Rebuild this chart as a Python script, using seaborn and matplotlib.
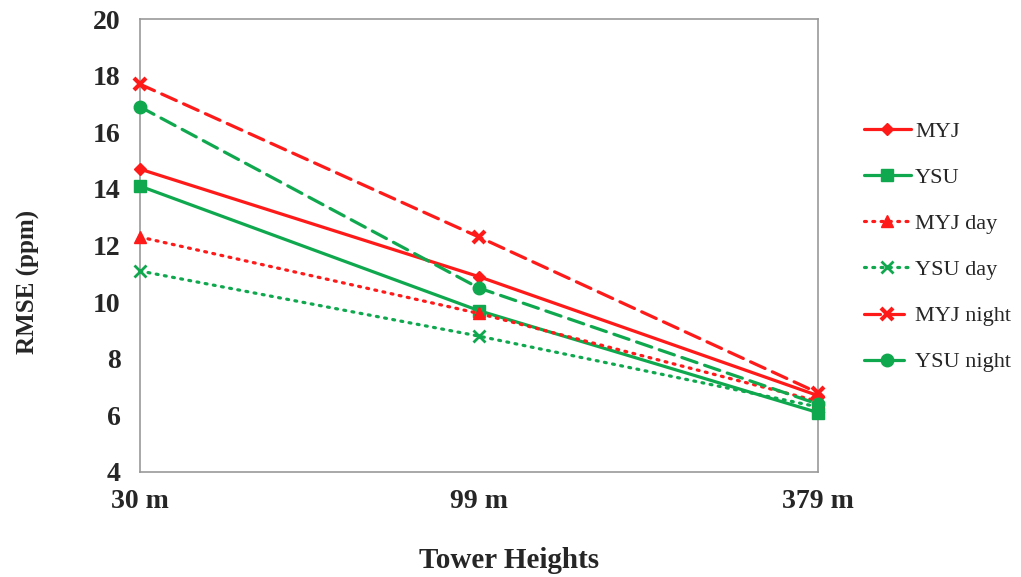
import pandas as pd
import seaborn as sns
import matplotlib.pyplot as plt

# Chart data
heights = ["30 m", "99 m", "379 m"]
myj = [14.7, 10.9, 6.7]
ysu = [14.1, 9.7, 6.1]
myj_day = [12.3, 9.6, 6.5]
ysu_day = [11.1, 8.8, 6.3]
myj_night = [17.7, 12.3, 6.8]
ysu_night = [16.9, 10.5, 6.4]

series_names = ["MYJ", "YSU", "MYJ day", "YSU day", "MYJ night", "YSU night"]
series_values = [myj, ysu, myj_day, ysu_day, myj_night, ysu_night]

sns.set_style("white")
plt.rcParams["font.family"] = ["Liberation Serif", "DejaVu Serif"]

red = "#ff1a1a"
green = "#10a84e"
dotted = (0, (0.6, 2.0))
dashed = (0, (5, 2.5))
styles = {
    "MYJ": dict(color=red, ls="-", marker="D", ms=6, mew=1),
    "YSU": dict(color=green, ls="-", marker="s", ms=8, mew=1),
    "MYJ day": dict(color=red, ls=dotted, marker="^", ms=9, mew=1),
    "YSU day": dict(color=green, ls=dotted, marker="x", ms=9, mew=2),
    "MYJ night": dict(color=red, ls=dashed, marker="x", ms=9, mew=3),
    "YSU night": dict(color=green, ls=dashed, marker="o", ms=9, mew=1),
}

fig = plt.figure(figsize=(10.21, 5.77), dpi=100)
ax = fig.add_axes([0.137, 0.182, 0.664, 0.785])

for name, vals in zip(series_names, series_values):
    df = pd.DataFrame({"x": range(len(heights)), "y": vals})
    st = styles[name]
    sns.lineplot(data=df, x="x", y="y", ax=ax, label=name, color=st["color"],
                 linestyle=st["ls"], linewidth=2.3, marker=st["marker"],
                 markersize=st["ms"], markeredgewidth=st["mew"],
                 markeredgecolor=st["color"], dash_capstyle="round",
                 clip_on=False, zorder=3)

ax.set_xlim(0, len(heights) - 1)
ax.set_ylim(4, 20)
ax.set_xticks(range(len(heights)))
ax.set_xticklabels(heights)
ax.set_yticks(range(4, 21, 2))
ax.tick_params(axis="y", direction="in", length=7, color="#aaaaaa", pad=14,
               labelsize=20)
ax.tick_params(axis="x", length=0, pad=12, labelsize=20)
for lab in ax.get_xticklabels() + ax.get_yticklabels():
    lab.set_fontweight("bold")
for sp in ax.spines.values():
    sp.set_color("#999999")
    sp.set_linewidth(1.2)

ax.set_xlabel("Tower Heights", fontsize=21, fontweight="bold")
ax.set_ylabel("RMSE (ppm)", fontsize=18, fontweight="bold")
ax.xaxis.set_label_coords(0.545, -0.165)
ax.yaxis.set_label_coords(-0.165, 0.42)
ax.yaxis.label.set_va("center")

ax.legend(loc="center left", bbox_to_anchor=(1.055, 0.497), frameon=False,
          fontsize=16, handlelength=2.1, labelspacing=1.15, handletextpad=0.2,
          borderaxespad=0)

fig.savefig("out.png", dpi=100)
